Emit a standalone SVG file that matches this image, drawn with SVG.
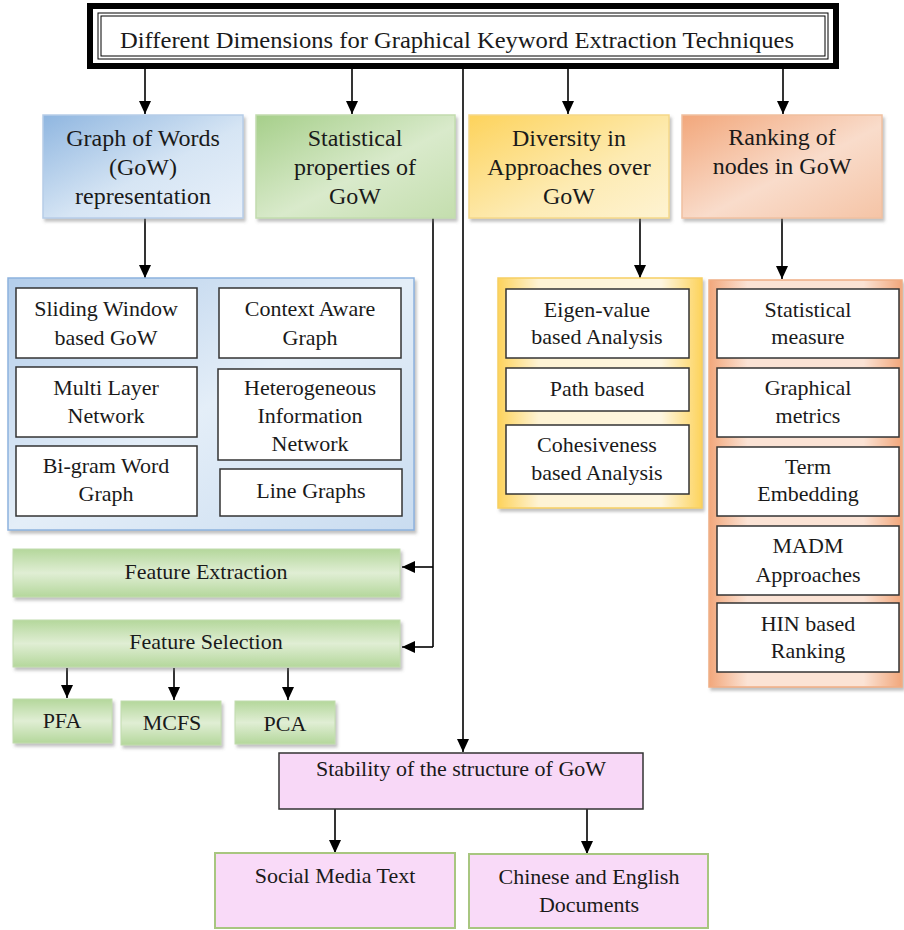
<svg xmlns="http://www.w3.org/2000/svg" width="904" height="930" viewBox="0 0 904 930">
<defs>
<linearGradient id="gBlue" x1="0" y1="0" x2="1" y2="1"><stop offset="0" stop-color="#8fb6e0"/><stop offset="0.55" stop-color="#d6e5f4"/><stop offset="1" stop-color="#e9f1fa"/></linearGradient>
<linearGradient id="gBlueC" x1="0" y1="0" x2="1" y2="1"><stop offset="0" stop-color="#b3cdea"/><stop offset="0.5" stop-color="#e4eef8"/><stop offset="1" stop-color="#c9dcf0"/></linearGradient>
<linearGradient id="gGreen" x1="0" y1="0" x2="1" y2="1"><stop offset="0" stop-color="#a6cf8a"/><stop offset="0.55" stop-color="#d9eacb"/><stop offset="1" stop-color="#c4deae"/></linearGradient>
<linearGradient id="gGreenH" x1="0" y1="0" x2="0" y2="1"><stop offset="0" stop-color="#b4d79b"/><stop offset="0.5" stop-color="#e0eed4"/><stop offset="1" stop-color="#b4d79b"/></linearGradient>
<linearGradient id="gYellow" x1="0" y1="0" x2="1" y2="1"><stop offset="0" stop-color="#fdd35c"/><stop offset="0.6" stop-color="#fdebb3"/><stop offset="1" stop-color="#fef3d2"/></linearGradient>
<linearGradient id="gYellowC" x1="0" y1="0" x2="1" y2="0"><stop offset="0" stop-color="#fdd35c"/><stop offset="0.2" stop-color="#fef3d4"/><stop offset="0.8" stop-color="#fef6e0"/><stop offset="1" stop-color="#fdd35c"/></linearGradient>
<linearGradient id="gOrange" x1="0" y1="0" x2="1" y2="1"><stop offset="0" stop-color="#f2a77b"/><stop offset="0.55" stop-color="#f9dccb"/><stop offset="1" stop-color="#f5c4a6"/></linearGradient>
<linearGradient id="gOrangeC" x1="0" y1="0" x2="1" y2="0"><stop offset="0" stop-color="#f2a77b"/><stop offset="0.2" stop-color="#fbe3d5"/><stop offset="0.8" stop-color="#fbe3d5"/><stop offset="1" stop-color="#f2a77b"/></linearGradient>
<filter id="sh" x="-5%" y="-5%" width="115%" height="120%"><feDropShadow dx="2" dy="3" stdDeviation="1.5" flood-color="#777" flood-opacity="0.45"/></filter>
<marker id="ar" markerUnits="userSpaceOnUse" markerWidth="14" markerHeight="14" viewBox="0 0 14 14" refX="13" refY="7" orient="auto"><path d="M0,1 L13,7 L0,13 Z" fill="#000"/></marker>
<style>
text{font-family:"Liberation Serif","Times New Roman",serif;fill:#1a1a1a;text-anchor:middle}
.t{font-size:24px}
.s{font-size:22px}
.f{font-size:22px}
.in{fill:#fff;stroke:#333;stroke-width:1.5}
.c{stroke:#000;stroke-width:1.6;fill:none}
.ca{stroke:#000;stroke-width:1.6;fill:none;marker-end:url(#ar)}
</style>
</defs>
<rect width="904" height="930" fill="#fff"/>

<g id="title">
<rect x="90" y="6" width="746" height="60" fill="#fff" stroke="#000" stroke-width="6"/>
<rect x="98" y="13" width="730" height="46" fill="none" stroke="#000" stroke-width="1"/>
<rect x="101" y="16" width="724" height="40" fill="none" stroke="#000" stroke-width="1"/>
<text x="457" y="48" style="font-size:24px" textLength="674" lengthAdjust="spacingAndGlyphs">Different Dimensions for Graphical Keyword Extraction Techniques</text>
</g>

<g id="connectors">
<line class="ca" x1="145" y1="69" x2="145" y2="114"/>
<line class="ca" x1="352" y1="69" x2="352" y2="114"/>
<line class="ca" x1="568" y1="69" x2="568" y2="114"/>
<line class="ca" x1="783" y1="69" x2="783" y2="114"/>
<line class="ca" x1="463" y1="69" x2="463" y2="752"/>
<line class="ca" x1="145" y1="218" x2="145" y2="278"/>
<line class="ca" x1="640" y1="218" x2="640" y2="278"/>
<line class="ca" x1="782" y1="218" x2="782" y2="279"/>
<polyline class="c" points="433,218 433,647"/>
<line class="ca" x1="433" y1="567" x2="402" y2="567"/>
<line class="ca" x1="433" y1="647" x2="402" y2="647"/>
<line class="ca" x1="67" y1="668" x2="67" y2="698"/>
<line class="ca" x1="174" y1="668" x2="174" y2="700"/>
<line class="ca" x1="288" y1="668" x2="288" y2="700"/>
<line class="ca" x1="335" y1="809" x2="335" y2="853"/>
<line class="ca" x1="587" y1="809" x2="587" y2="854"/>
</g>

<g id="gow">
<rect x="43" y="115" width="200" height="103" fill="url(#gBlue)" stroke="#b7cde8" stroke-width="1.5" filter="url(#sh)"/>
<text class="t" x="143" y="146">Graph of Words</text>
<text class="t" x="143" y="175">(GoW)</text>
<text class="t" x="143" y="204">representation</text>
</g>
<g id="stat">
<rect x="256" y="115" width="199" height="103" fill="url(#gGreen)" stroke="#c2dcae" stroke-width="1.5" filter="url(#sh)"/>
<text class="t" x="355" y="146">Statistical</text>
<text class="t" x="355" y="175">properties of</text>
<text class="t" x="355" y="204">GoW</text>
</g>
<g id="div">
<rect x="469" y="115" width="200" height="103" fill="url(#gYellow)" stroke="#f5d88a" stroke-width="1.5" filter="url(#sh)"/>
<text class="t" x="569" y="146">Diversity in</text>
<text class="t" x="569" y="175">Approaches over</text>
<text class="t" x="569" y="204">GoW</text>
</g>
<g id="rank">
<rect x="682" y="115" width="200" height="103" fill="url(#gOrange)" stroke="#f0c0a0" stroke-width="1.5" filter="url(#sh)"/>
<text class="t" x="782" y="145">Ranking of</text>
<text class="t" x="782" y="174">nodes in GoW</text>
</g>

<g id="gow-container">
<rect x="8" y="278" width="406" height="252" fill="url(#gBlueC)" stroke="#8db2de" stroke-width="1.5" filter="url(#sh)"/>
</g>
<g id="sliding"><rect class="in" x="16" y="288" width="181" height="70"/><text class="s" x="106" y="316">Sliding Window</text><text class="s" x="106" y="345">based GoW</text></g>
<g id="context"><rect class="in" x="219" y="288" width="182" height="70"/><text class="s" x="310" y="316">Context Aware</text><text class="s" x="310" y="345">Graph</text></g>
<g id="multilayer"><rect class="in" x="16" y="367" width="181" height="70"/><text class="s" x="106" y="395">Multi Layer</text><text class="s" x="106" y="423">Network</text></g>
<g id="hin"><rect class="in" x="218" y="369" width="183" height="91"/><text class="s" x="310" y="395">Heterogeneous</text><text class="s" x="310" y="423">Information</text><text class="s" x="310" y="451">Network</text></g>
<g id="bigram"><rect class="in" x="16" y="446" width="181" height="70"/><text class="s" x="106" y="473">Bi-gram Word</text><text class="s" x="106" y="501">Graph</text></g>
<g id="linegraphs"><rect class="in" x="220" y="469" width="182" height="47"/><text class="s" x="311" y="498">Line Graphs</text></g>

<g id="div-container">
<rect x="498" y="278" width="204" height="230" fill="url(#gYellowC)" stroke="#f6cf63" stroke-width="1.5" filter="url(#sh)"/>
</g>
<g id="eigen"><rect class="in" x="506" y="289" width="183" height="69"/><text class="s" x="597" y="317">Eigen-value</text><text class="s" x="597" y="344">based Analysis</text></g>
<g id="path"><rect class="in" x="506" y="368" width="183" height="43"/><text class="s" x="597" y="396">Path based</text></g>
<g id="cohes"><rect class="in" x="506" y="425" width="183" height="69"/><text class="s" x="597" y="452">Cohesiveness</text><text class="s" x="597" y="480">based Analysis</text></g>

<g id="rank-container">
<rect x="709" y="280" width="193" height="407" fill="url(#gOrangeC)" stroke="#f0ae85" stroke-width="1.5" filter="url(#sh)"/>
</g>
<g id="statmeasure"><rect class="in" x="717" y="289" width="182" height="69"/><text class="s" x="808" y="317">Statistical</text><text class="s" x="808" y="344">measure</text></g>
<g id="graphical"><rect class="in" x="717" y="368" width="182" height="69"/><text class="s" x="808" y="395">Graphical</text><text class="s" x="808" y="423">metrics</text></g>
<g id="term"><rect class="in" x="717" y="447" width="182" height="69"/><text class="s" x="808" y="474">Term</text><text class="s" x="808" y="501">Embedding</text></g>
<g id="madm"><rect class="in" x="717" y="526" width="182" height="69"/><text class="s" x="808" y="553">MADM</text><text class="s" x="808" y="582">Approaches</text></g>
<g id="hinrank"><rect class="in" x="717" y="603" width="182" height="69"/><text class="s" x="808" y="631">HIN based</text><text class="s" x="808" y="658">Ranking</text></g>

<g id="featext"><rect x="13" y="549" width="387" height="48" fill="url(#gGreenH)" stroke="#c2dcae" stroke-width="1" filter="url(#sh)"/><text class="f" x="206" y="579">Feature Extraction</text></g>
<g id="featsel"><rect x="13" y="620" width="387" height="47" fill="url(#gGreenH)" stroke="#c2dcae" stroke-width="1" filter="url(#sh)"/><text class="f" x="206" y="649">Feature Selection</text></g>
<g id="pfa"><rect x="13" y="699" width="99" height="44" fill="url(#gGreenH)" stroke="#c2dcae" stroke-width="1" filter="url(#sh)"/><text class="f" x="62" y="728">PFA</text></g>
<g id="mcfs"><rect x="121" y="701" width="100" height="44" fill="url(#gGreenH)" stroke="#c2dcae" stroke-width="1" filter="url(#sh)"/><text class="f" x="172" y="730">MCFS</text></g>
<g id="pca"><rect x="235" y="701" width="100" height="43" fill="url(#gGreenH)" stroke="#c2dcae" stroke-width="1" filter="url(#sh)"/><text class="f" x="285" y="731">PCA</text></g>

<g id="stability"><rect x="279" y="753" width="364" height="56" fill="#f8d8f7" stroke="#333" stroke-width="1.5"/><text class="f" x="461" y="776">Stability of the structure of GoW</text></g>
<g id="social"><rect x="215" y="853" width="240" height="75" fill="#f9daf8" stroke="#a8c680" stroke-width="2"/><text class="f" x="335" y="883">Social Media Text</text></g>
<g id="chinese"><rect x="469" y="854" width="239" height="74" fill="#f9daf8" stroke="#a8c680" stroke-width="2"/><text class="f" x="589" y="884">Chinese and English</text><text class="f" x="589" y="912">Documents</text></g>
</svg>
